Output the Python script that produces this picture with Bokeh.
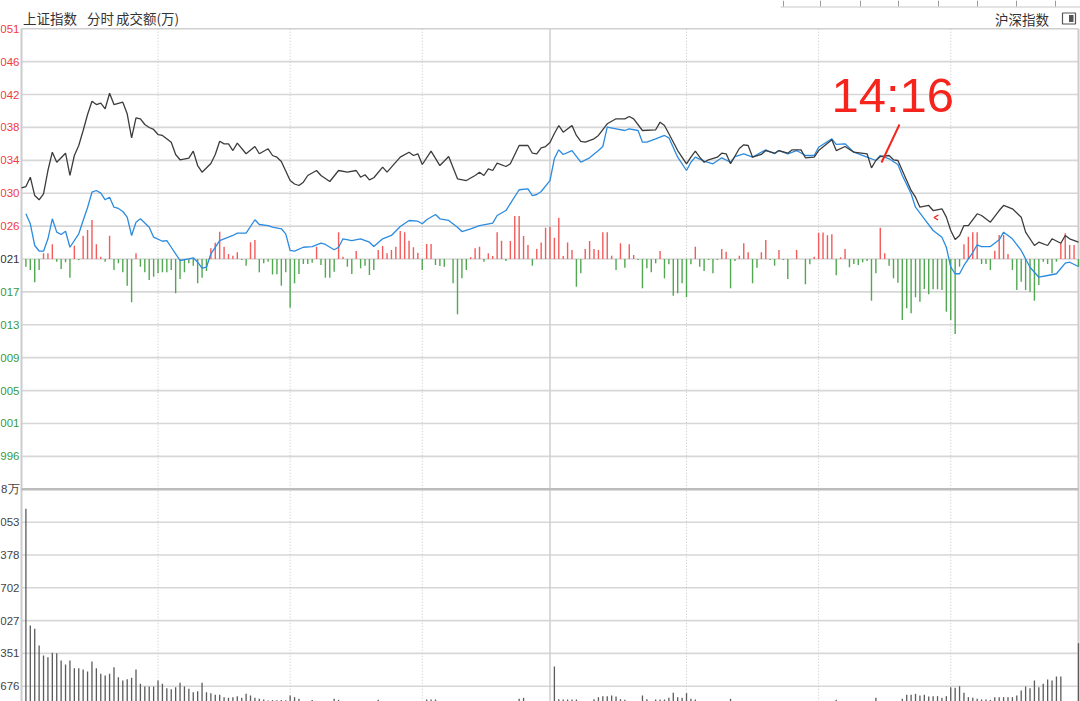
from bokeh.plotting import figure
from bokeh.models import Range1d
from bokeh.core.properties import value
from bokeh.embed import file_html
from bokeh.resources import INLINE

# ------------------------------------------------------------------ data
PREV_CLOSE = 3021.40
price_ticks = [3050.57, 3046.40, 3042.23, 3038.07, 3033.90, 3029.73, 3025.57, 3021.40,
               3017.23, 3013.07, 3008.90, 3004.73, 3000.57, 2996.40, 2992.23]
price_labels = ["051", "046", "042", "038", "034", "030", "026", "021",
                "017", "013", "009", "005", "001", "996"]
vol_ticks = [2676, 5351, 8027, 10702, 13378, 16053, 18729]
vol_labels = ["676", "351", "027", "702", "378", "053", "8万"]
half_hour_lines = [31, 61, 91, 151, 181, 211]
noon_line = 120

black_k = [0, 1, 2, 3, 4, 5, 6, 7, 8, 10, 11, 12, 13, 14, 15, 16, 17, 18, 19, 20, 21, 23, 24, 25, 26,
           27, 28, 29, 30, 31, 32, 34, 35, 36, 38, 39, 40, 41, 43, 44, 45, 46, 47, 48, 49, 51, 53, 54,
           56, 57, 58, 59, 61, 62, 63, 64, 65, 67, 68, 70, 72, 74, 76, 77, 78, 79, 80, 82, 83, 86, 88,
           89, 90, 91, 93, 95, 97, 99, 101, 103, 104, 105, 106, 107, 108, 110, 111, 113, 115, 116,
           117, 118, 119, 120, 121, 122, 123, 125, 126, 127, 128, 130, 131, 133, 135, 137, 138, 139,
           141, 144, 145, 146, 147, 149, 151, 152, 153, 154, 155, 156, 158, 159, 160, 161, 163, 164,
           165, 166, 168, 169, 171, 172, 174, 175, 177, 178, 180, 181, 184, 185, 187, 189, 192, 193,
           194, 195, 197, 198, 199, 201, 202, 203, 204, 206, 207, 209, 210, 211, 212, 213, 214, 215,
           217, 218, 220, 222, 223, 225, 227, 228, 230, 231, 233, 234, 236, 237, 238, 240]
black_v = [3030.42, 3030.58, 3031.76, 3029.44, 3028.90, 3029.66, 3032.61, 3034.93, 3033.66, 3034.80,
           3031.98, 3034.51, 3035.78, 3037.68, 3039.71, 3041.39, 3040.97, 3041.14, 3040.43, 3042.40,
           3040.97, 3041.26, 3039.79, 3036.75, 3039.29, 3039.16, 3038.44, 3038.06, 3037.81, 3037.17,
           3037.05, 3036.20, 3034.64, 3033.97, 3034.17, 3035.06, 3033.24, 3032.40, 3033.50, 3034.64,
           3036.32, 3035.99, 3035.99, 3035.14, 3036.07, 3034.73, 3035.65, 3034.73, 3035.36, 3034.51,
           3034.30, 3033.75, 3031.34, 3030.90, 3030.71, 3031.13, 3031.98, 3032.61, 3031.98, 3031.22,
           3032.61, 3032.40, 3032.61, 3031.76, 3032.07, 3031.43, 3031.69, 3033.03, 3032.40, 3034.30,
           3034.93, 3034.51, 3034.73, 3033.37, 3035.06, 3033.24, 3034.38, 3031.56, 3031.34, 3031.98,
           3032.40, 3031.98, 3032.83, 3032.61, 3033.54, 3033.12, 3033.46, 3035.78, 3035.78, 3034.80,
           3034.73, 3035.49, 3035.65, 3036.16, 3037.30, 3038.31, 3037.46, 3038.31, 3037.05, 3036.29,
           3036.20, 3036.63, 3037.05, 3038.53, 3039.16, 3039.16, 3039.45, 3039.16, 3037.68, 3037.77,
           3038.73, 3038.31, 3037.26, 3035.14, 3033.46, 3034.30, 3035.06, 3034.30, 3033.66, 3033.97,
           3034.30, 3034.80, 3034.73, 3033.46, 3035.40, 3035.87, 3035.78, 3034.30, 3034.64, 3035.14,
           3034.80, 3035.14, 3034.80, 3035.23, 3035.23, 3034.22, 3034.30, 3035.14, 3036.50, 3035.14,
           3035.65, 3034.93, 3034.73, 3032.95, 3033.88, 3034.38, 3034.51, 3033.97, 3033.88, 3031.34,
           3030.08, 3029.23, 3027.96, 3028.18, 3027.54, 3027.76, 3026.70, 3025.01, 3023.87, 3024.38,
           3025.64, 3025.64, 3027.13, 3026.91, 3026.06, 3027.54, 3028.18, 3027.76, 3026.70, 3024.80,
           3023.11, 3023.53, 3023.11, 3023.96, 3023.40, 3024.38, 3023.96, 3023.53]

blue_k = [1, 2, 3, 4, 5, 6, 7, 8, 9, 10, 11, 13, 14, 15, 16, 17, 18, 19, 20, 21, 22, 23, 24, 25, 26,
          27, 29, 30, 32, 33, 34, 36, 38, 39, 40, 41, 42, 43, 45, 47, 48, 49, 51, 53, 54, 56, 57, 59,
          60, 61, 62, 64, 66, 68, 69, 71, 72, 73, 75, 77, 79, 80, 82, 84, 86, 88, 90, 91, 92, 94, 95,
          97, 99, 100, 102, 104, 107, 108, 110, 113, 115, 116, 117, 118, 120, 121, 122, 123, 125, 127,
          129, 131, 132, 133, 135, 137, 138, 140, 141, 142, 144, 146, 147, 149, 151, 152, 153, 155,
          157, 159, 161, 162, 164, 166, 169, 171, 172, 174, 176, 178, 180, 181, 184, 185, 187, 189,
          192, 194, 195, 197, 199, 200, 202, 203, 205, 207, 209, 210, 211, 212, 213, 214, 216, 217,
          218, 220, 222, 223, 225, 227, 229, 231, 233, 235, 237, 238, 240]
blue_v = [3027.13, 3025.86, 3023.11, 3022.41, 3022.39, 3023.96, 3026.49, 3024.80, 3024.50, 3024.92,
          3022.89, 3024.59, 3026.28, 3027.92, 3029.86, 3030.08, 3029.74, 3028.90, 3029.23, 3027.96,
          3027.80, 3027.42, 3026.70, 3024.38, 3026.06, 3026.49, 3025.43, 3024.16, 3023.65, 3023.74,
          3022.89, 3021.21, 3021.43, 3021.55, 3020.99, 3020.23, 3020.36, 3022.06, 3023.74, 3024.16,
          3024.38, 3024.67, 3024.67, 3026.37, 3025.77, 3025.64, 3025.43, 3025.23, 3024.59, 3022.48,
          3022.39, 3022.89, 3022.98, 3023.40, 3023.24, 3022.57, 3022.89, 3023.96, 3023.74, 3023.96,
          3023.53, 3022.98, 3023.96, 3024.38, 3025.52, 3026.28, 3026.19, 3025.86, 3026.37, 3027.04,
          3026.49, 3026.28, 3025.43, 3024.88, 3025.23, 3025.64, 3025.94, 3026.91, 3027.54, 3030.17,
          3030.29, 3029.44, 3029.57, 3029.95, 3031.34, 3034.13, 3035.23, 3034.64, 3035.14, 3033.66,
          3034.22, 3035.14, 3035.65, 3038.10, 3037.89, 3037.68, 3037.89, 3037.68, 3036.20, 3036.20,
          3036.63, 3037.05, 3036.75, 3034.30, 3032.61, 3033.66, 3034.30, 3033.79, 3033.46, 3034.22,
          3033.66, 3034.38, 3034.73, 3034.30, 3035.23, 3034.73, 3035.14, 3034.73, 3035.14, 3034.51,
          3034.51, 3035.56, 3036.63, 3035.91, 3035.99, 3034.93, 3034.30, 3033.88, 3034.51, 3034.09,
          3033.37, 3031.98, 3029.66, 3027.96, 3026.49, 3025.01, 3024.16, 3022.89, 3020.36, 3019.53,
          3019.53, 3020.58, 3022.22, 3023.20, 3022.98, 3022.98, 3023.83, 3024.80, 3023.96, 3022.48,
          3020.36, 3019.09, 3019.31, 3019.53, 3020.87, 3020.99, 3020.45]

# red/green strength bars, minutes 1..240 (indicator units)
strength = [-7.7, -11, -23.3, -11, 5.7, 5.7, 14.7, -2.7, -10, -3.3,
            -18.7, 13.3, -1, 23.3, 29, 39, 14.7, 2.3, -2.7, 23.3,
            -11, -4.3, -13.3, -26.7, -43.3, 5.7, -7.7, -13.3, -21, -17.7,
            -14.3, -13.3, -13.3, -11, -34.3, -20, -13.3, -4.3, -6.7, -24.3,
            -18.7, -12, 10.7, 16.3, 27.3, 12.3, 5, 3.3, 6.7, -1,
            -6.7, 16.7, 19, -13.3, -4.3, -2.7, -15.5, -15.3, -26.7, -13.3,
            -48.7, -24.3, -15, -5, -5, -3.7, 12.3, -6, -18.7, -18.7,
            -12.7, 26.7, 2.3, -7.7, -15, 8, -9.3, -6.7, -16, -11,
            9, 13, 5.7, 9, 12.3, 28, 26.7, 18.3, 11.7, 6.3,
            -11, 15, 15, -6, -7, -7.7, 0, -24.3, -55.3, -19.3,
            -11, 1.7, 10.7, 12.3, -2.7, 5.7, 3, 26.7, 18.3, -2,
            18, 43, 43, 23, 14, -6.7, 10, 16.5, 31.3, 32.3,
            21.3, 41.3, 3, 16.5, 9, -27.7, -14.3, 10, 18, 10,
            9, 26.7, 26.7, 3.3, -11, 15.7, -8.7, 14.7, 4, -1,
            -29.3, -9.3, -13.3, -4.3, 8, -19.3, -5.3, -36.7, -34.3, -24.3,
            -38.3, -5.3, 12.3, -7.7, -12, -1, -14.3, -1, 10, 7.3,
            -29.3, -2, 3.3, 15.7, 6.7, -24.3, -8.7, 6.7, 19, -1,
            -6.7, 9, -1, -20, 0, 9, 0, -25.3, -5.3, 2.3,
            26.3, 26.5, 23.7, 24.8, -16.3, 1.7, 10, -8.3, -5, -6,
            -3.3, -2, -41.7, -14.3, 31.3, 5.7, -6.7, -19.3, -23.7, -61,
            -49.3, -54.3, -38.3, -42.7, -30, -35.3, -30.3, -30.3, -31, -52.7,
            -61, -75, -7.7, 14.7, 22.3, 26.7, 26.7, -5, -5, -11,
            8.3, 24, 24, 5, -11, -31, -22.7, -31, -32.7, -41.7,
            -26, -2.7, -5, -14.3, -2.7, 15.7, 25.7, 14, 14, -7.7]

# turnover (万), minutes 0..240
volume = [0, 17146, 7627, 7355, 5995, 5180, 5044, 5397, 5370, 4772,
          4446, 4772, 4146, 4146, 4038, 3875, 4690, 4146, 3684, 3548,
          3684, 4228, 3412, 3140, 3249, 3358, 4038, 2869, 2651, 2651,
          2651, 3140, 2869, 2515, 2433, 2597, 2950, 2651, 2461, 2189,
          2270, 2950, 2189, 2107, 1971, 1971, 1781, 1727, 1781, 1862,
          1727, 2053, 1917, 1727, 1645, 1591, 1509, 1540, 1520, 1545,
          1530, 1917, 1781, 1645, 1250, 1180, 1560, 1120, 1180, 1130,
          1200, 1645, 1563, 1150, 1100, 1080, 1120, 1060, 1150, 1100,
          1200, 1563, 1150, 1090, 1120, 1200, 1180, 1130, 1100, 1160,
          1250, 1220, 1591, 1591, 1591, 1150, 1080, 1200, 1250, 1100,
          1050, 1020, 1080, 1100, 1040, 1000, 1060, 1150, 1120, 1010,
          1090, 1200, 1250, 1645, 1727, 1100, 1080, 1150, 1200, 1220,
          1250, 4282, 1618, 1591, 1591, 1591, 1591, 1200, 1150, 1250,
          1618, 1781, 1862, 1862, 1917, 1835, 1618, 1563, 1200, 1150,
          1250, 1917, 1618, 1200, 1591, 1591, 1591, 1727, 2135, 1781,
          1727, 2107, 1645, 1591, 1150, 1100, 1180, 1060, 1120, 1100,
          1250, 1645, 1100, 1150, 1080, 1200, 1060, 1040, 1120, 1000,
          1050, 1080, 1020, 1150, 980, 1060, 1000, 1180, 1050, 1030,
          1160, 1200, 1150, 1170, 1140, 1563, 1100, 1080, 1060, 1050,
          1040, 1030, 1250, 1150, 1727, 1120, 1100, 1200, 1250, 1300,
          1645, 1971, 1971, 2053, 1917, 1971, 1835, 1862, 1862, 1727,
          1862, 2597, 2542, 2678, 2135, 1781, 1727, 1645, 1591, 1591,
          1563, 1781, 1781, 1781, 1781, 1781, 1917, 2325, 2651, 2515,
          3140, 2597, 2869, 3222, 3140, 3467, 3467, 0, 0, 0,
          6185]

# ------------------------------------------------------------------ layout helpers (canvas px -> data)
def kx(px):
    return (px - 21.0) / 4.404


def yp(py):
    return PREV_CLOSE + (258.5 - py) * 0.12668


def vp(py):
    return (718.5 - py) * 81.57


W, H = 1080, 701
CJK = value("Noto Sans CJK SC")
NUM = value("Liberation Sans")

p = figure(width=W, height=H, output_backend="svg", toolbar_location=None,
           x_range=Range1d(kx(0), kx(W)), y_range=Range1d(yp(H), yp(0)),
           x_axis_location=None, y_axis_location=None, min_border=0, title=None,
           outline_line_color=None, background_fill_color="#ffffff",
           border_fill_color="#ffffff")
p.extra_y_ranges = {"vol": Range1d(vp(H), vp(0)), "ld": Range1d(258.5 - H, 258.5)}
p.grid.visible = False

X_END = kx(1078)
Y_BOTTOM = yp(H + 5)

# cut-off toolbar strip at the very top (right side)
p.segment(x0=[kx(780)], x1=[kx(1080)], y0=[yp(6.5)], y1=[yp(6.5)],
          line_color="#c8c8c8", line_width=1)
sep_x = [kx(v) for v in (783, 820, 860, 898, 938, 977, 1016, 1055)]
p.segment(x0=sep_x, x1=sep_x, y0=[yp(0)] * len(sep_x), y1=[yp(6)] * len(sep_x),
          line_color="#9a9a9a", line_width=1)

# horizontal grid – price panel
grid_y = price_ticks[1:14]
p.segment(x0=[0] * len(grid_y), x1=[X_END] * len(grid_y), y0=grid_y, y1=grid_y,
          line_color="#d7d7d7", line_width=1.6)
# top border
p.segment(x0=[0], x1=[X_END], y0=[price_ticks[0]], y1=[price_ticks[0]],
          line_color="#d0d0d0", line_width=1.4)
# horizontal grid – volume panel
vg = vol_ticks[:-1]
p.segment(x0=[0] * len(vg), x1=[X_END] * len(vg), y0=vg, y1=vg,
          line_color="#d7d7d7", line_width=1.6, y_range_name="vol")
# vertical dotted half-hour lines
p.segment(x0=half_hour_lines, x1=half_hour_lines, y0=[price_ticks[0]] * 6, y1=[Y_BOTTOM] * 6,
          line_color="#c4c4c4", line_width=1, line_dash="1 2")
# noon line
p.segment(x0=[noon_line], x1=[noon_line], y0=[price_ticks[0]], y1=[Y_BOTTOM],
          line_color="#cfcfcf", line_width=1.5)
# left / right border
p.segment(x0=[0, X_END], x1=[0, X_END], y0=[price_ticks[0]] * 2, y1=[Y_BOTTOM] * 2,
          line_color="#cccccc", line_width=2)

# red / green strength bars
ld_k = list(range(1, len(strength) + 1))
ld_col = ["#f45b5b" if v > 0 else "#52a852" for v in strength]
p.vbar(x=ld_k, width=0.32, bottom=0, top=strength, fill_color=ld_col, line_color=None,
       y_range_name="ld")

# panel separator
p.segment(x0=[0], x1=[X_END], y0=[price_ticks[14]], y1=[price_ticks[14]],
          line_color="#bcbcbc", line_width=2.6)

# volume bars
vol_k = list(range(len(volume)))
p.vbar(x=vol_k, width=0.3, bottom=0, top=volume, fill_color="#5c5c5c", line_color=None,
       y_range_name="vol")

# price lines
p.line(blue_k, blue_v, line_color="#2b8be0", line_width=1.3)
p.line(black_k, black_v, line_color="#3c3c3c", line_width=1.3)

# tick labels – price
lab_col = ["#f03c3c"] * 7 + ["#333333"] + ["#3a9a3a"] * 6
p.text(x=[kx(19)] * 14, y=price_ticks[:14], text=price_labels, text_align="right",
       text_baseline="middle", text_font=NUM, text_font_size="11.5px", text_color=lab_col)
# tick labels – volume
p.text(x=[kx(19)] * 7, y=vol_ticks, text=vol_labels, text_align="right",
       text_baseline="middle", text_font=NUM, text_font_size="11.5px", text_color="#444444",
       y_range_name="vol")

# header
p.text(x=[kx(22.5), kx(86.5), kx(115.5)], y=[yp(17.5)] * 3, text=["上证指数", "分时", "成交额(万)"],
       text_align="left", text_baseline="middle", text_font=CJK, text_font_size="13.5px",
       text_color="#333333")
p.text(x=[kx(1048.5)], y=[yp(18)], text=["沪深指数"], text_align="right",
       text_baseline="middle", text_font=CJK, text_font_size="13.5px", text_color="#333333")
# small toggle icon
p.quad(left=[kx(1062)], right=[kx(1075)], top=[yp(12.5)], bottom=[yp(23.5)],
       fill_color="#ffffff", line_color="#555555", line_width=1.2)
p.quad(left=[kx(1068.5)], right=[kx(1073)], top=[yp(14.5)], bottom=[yp(21.5)],
       fill_color="#555555", line_color=None)

# red annotation
p.text(x=[kx(831)], y=[yp(94.5)], text=["14:16"], text_align="left",
       text_baseline="middle", text_font=NUM, text_font_size="49px", text_color="#f5251e")
p.segment(x0=[kx(881)], y0=[yp(162)], x1=[kx(899)], y1=[yp(124)],
          line_color="#f5251e", line_width=2)
p.line([kx(938), kx(933.5), kx(937.5)], [yp(214.5), yp(217), yp(219.5)],
       line_color="#f5251e", line_width=1.4)

open("out.html", "w").write(file_html(p, INLINE))
